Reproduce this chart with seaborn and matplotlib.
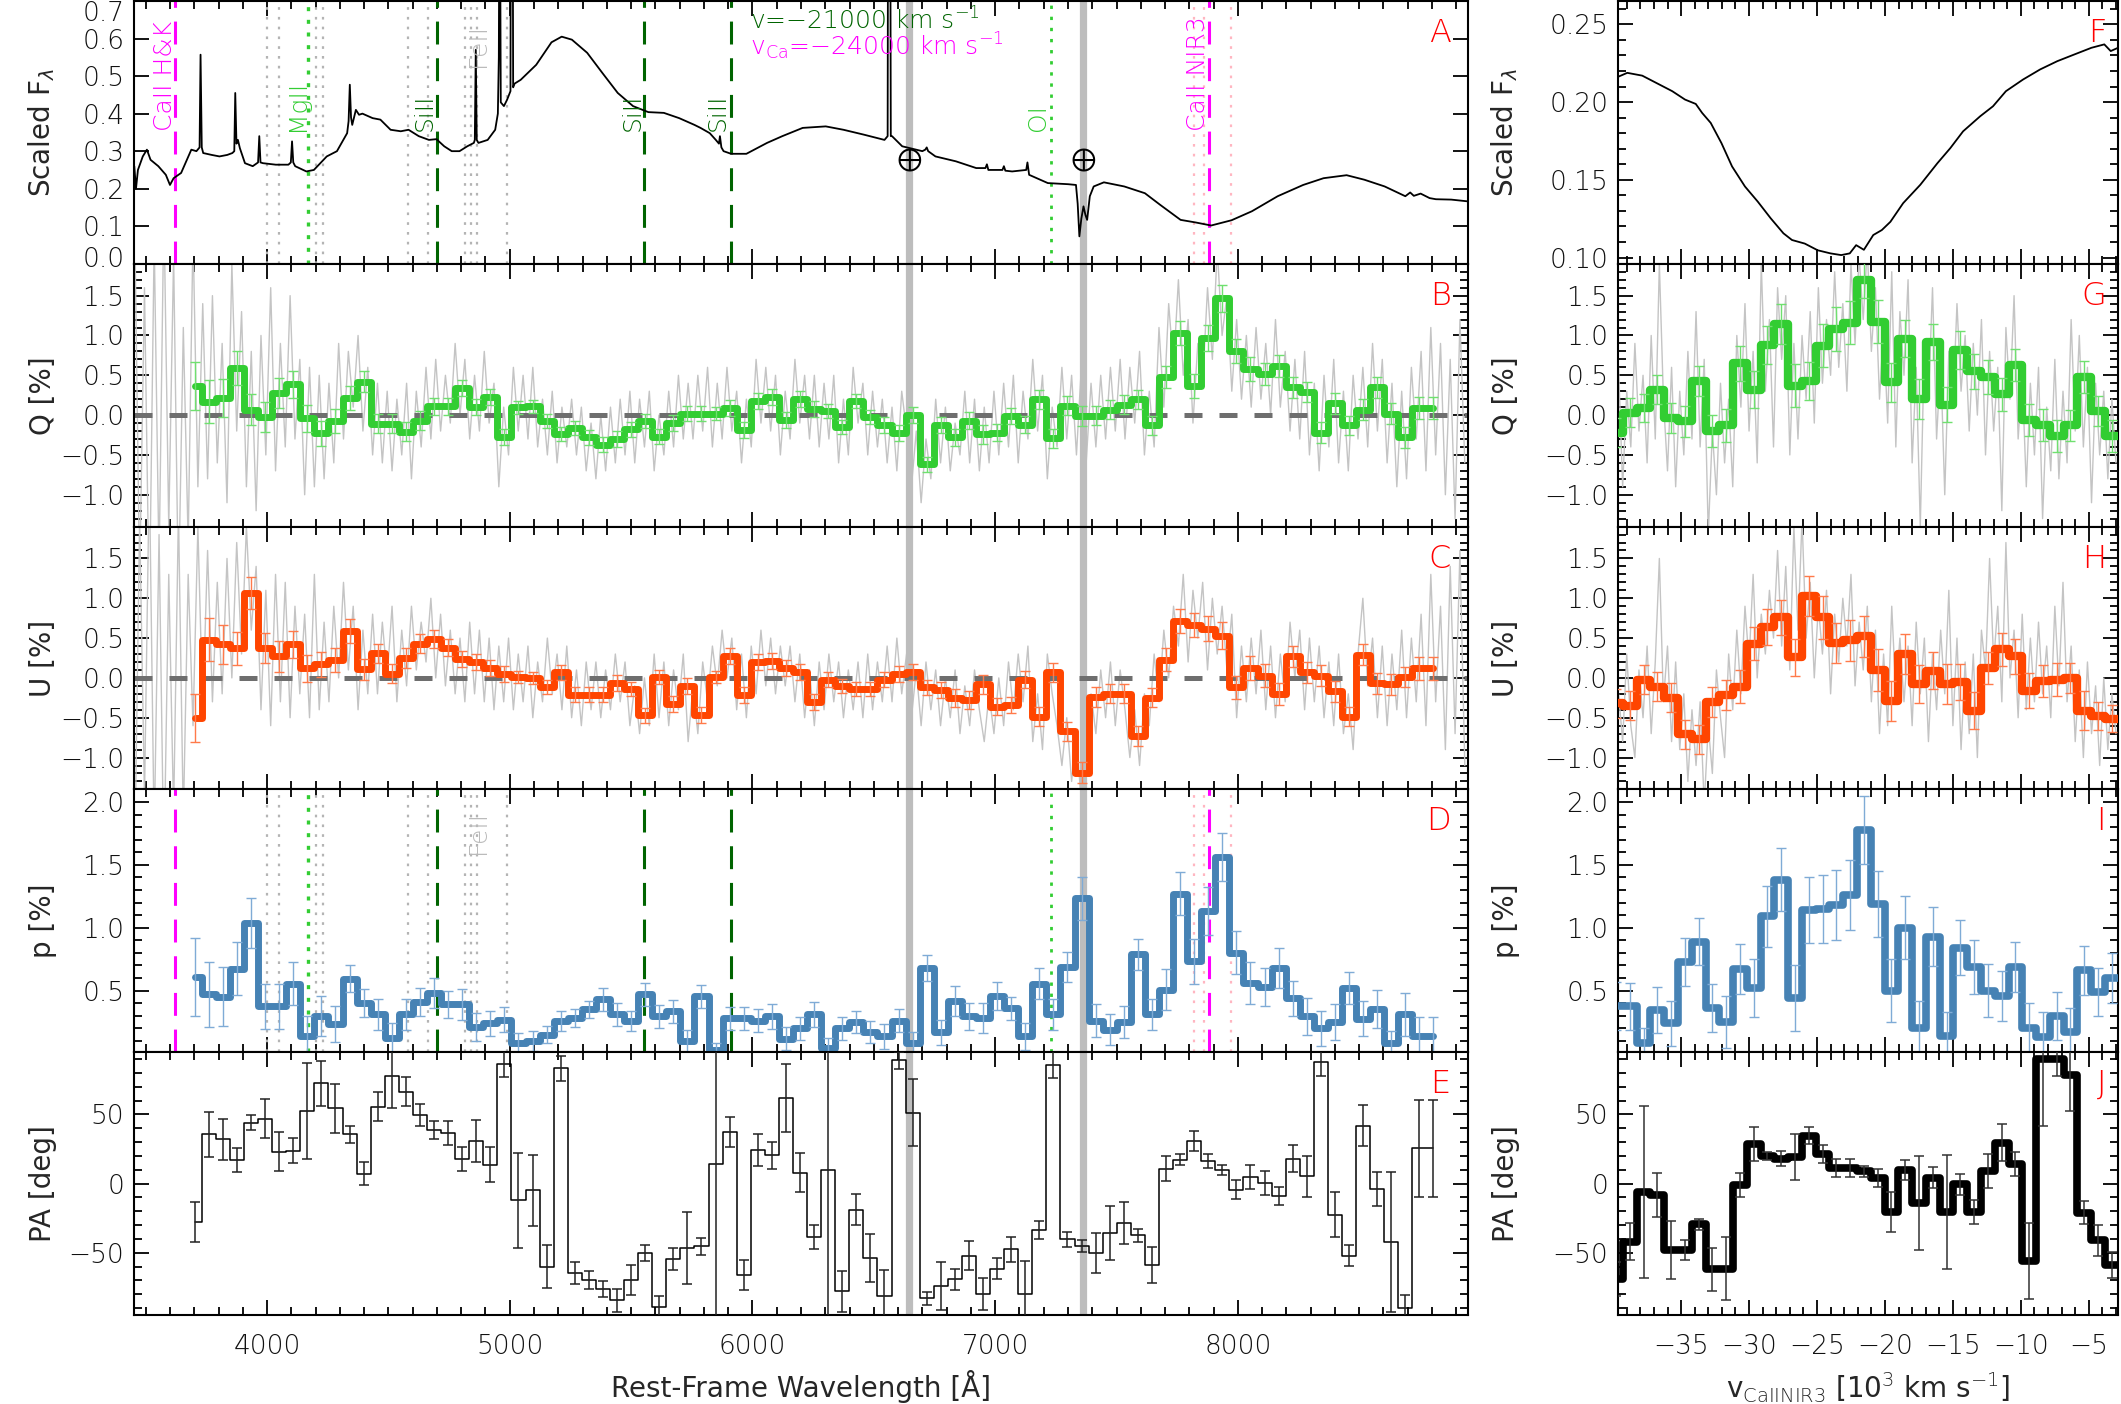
import numpy as np
import pandas as pd
import matplotlib
matplotlib.use("Agg")
import matplotlib.pyplot as plt
import seaborn as sns
from matplotlib.ticker import MultipleLocator, FuncFormatter
from matplotlib.transforms import ScaledTranslation

# ------------------------------------------------------------------ data
# left panels: binned spectropolarimetry (bin centres in Angstrom)
BIN_START = 3702.0
BIN_WIDTH = 58.0

q_left = [0.37, 0.17, 0.21, 0.59, 0.07, -0.02, 0.28, 0.39, -0.04, -0.23,
          -0.07, 0.21, 0.42, -0.11, -0.11, -0.21, -0.07, 0.11, 0.11, 0.34,
          0.10, 0.23, -0.27, 0.10, 0.11, -0.07, -0.24, -0.16, -0.28, -0.37,
          -0.30, -0.18, -0.07, -0.27, -0.10, 0.02, 0.02, 0.02, 0.09, -0.19,
          0.18, 0.23, -0.06, 0.20, 0.08, 0.05, -0.15, 0.18, -0.02, -0.12,
          -0.23, 0.00, -0.62, -0.13, -0.28, -0.07, -0.24, -0.22, -0.01, -0.12,
          0.20, -0.29, 0.12, -0.01, -0.01, 0.07, 0.13, 0.20, -0.13, 0.48,
          1.03, 0.37, 0.97, 1.47, 0.80, 0.58, 0.52, 0.62, 0.35, 0.29,
          -0.22, 0.15, -0.13, 0.07, 0.35, 0.02, -0.28, 0.09, 0.09]
u_left = [-0.50, 0.48, 0.42, 0.37, 1.07, 0.38, 0.27, 0.42, 0.12, 0.17,
          0.23, 0.59, 0.11, 0.31, 0.05, 0.25, 0.43, 0.49, 0.38, 0.24,
          0.20, 0.12, 0.05, 0.01, 0.00, -0.11, 0.07, -0.21, -0.21, -0.21,
          -0.06, -0.14, -0.47, 0.01, -0.33, -0.10, -0.46, 0.01, 0.27, -0.22,
          0.20, 0.21, 0.13, 0.07, -0.30, -0.02, -0.10, -0.14, -0.14, -0.02,
          0.05, 0.07, -0.12, -0.15, -0.25, -0.28, -0.08, -0.36, -0.34, -0.02,
          -0.49, 0.07, -0.67, -1.19, -0.24, -0.20, -0.20, -0.73, -0.25, 0.23,
          0.72, 0.66, 0.62, 0.53, -0.12, 0.12, 0.03, -0.20, 0.27, 0.07,
          0.03, -0.17, -0.49, 0.29, -0.07, -0.08, 0.01, 0.12, 0.12]
qu_err_left = [0.30, 0.27, 0.24, 0.21, 0.20, 0.19, 0.19, 0.17, 0.17, 0.16,
               0.15, 0.15, 0.13, 0.12, 0.12, 0.12, 0.12, 0.11, 0.11, 0.10,
               0.10, 0.10, 0.10, 0.08, 0.08, 0.09, 0.09, 0.09, 0.09, 0.09,
               0.10, 0.09, 0.09, 0.09, 0.10, 0.10, 0.10, 0.08, 0.10, 0.10,
               0.10, 0.10, 0.10, 0.10, 0.10, 0.09, 0.09, 0.09, 0.09, 0.10,
               0.10, 0.10, 0.10, 0.10, 0.11, 0.11, 0.12, 0.11, 0.10, 0.11,
               0.12, 0.12, 0.12, 0.13, 0.12, 0.12, 0.12, 0.12, 0.12, 0.14,
               0.15, 0.15, 0.16, 0.17, 0.15, 0.15, 0.14, 0.14, 0.13, 0.13,
               0.13, 0.13, 0.12, 0.13, 0.13, 0.13, 0.13, 0.14, 0.14]
p_left = [0.61, 0.47, 0.45, 0.675, 1.04, 0.375, 0.375, 0.556, 0.136, 0.295,
          0.234, 0.596, 0.40, 0.31, 0.12, 0.31, 0.41, 0.48, 0.39, 0.39,
          0.21, 0.24, 0.27, 0.08, 0.10, 0.15, 0.255, 0.28, 0.35, 0.43,
          0.31, 0.26, 0.47, 0.295, 0.335, 0.10, 0.455, 0.03, 0.28, 0.28,
          0.26, 0.295, 0.117, 0.20, 0.31, 0.04, 0.20, 0.25, 0.17, 0.136,
          0.26, 0.08, 0.68, 0.17, 0.415, 0.295, 0.28, 0.455, 0.36, 0.136,
          0.556, 0.31, 0.686, 1.234, 0.26, 0.19, 0.25, 0.787, 0.31, 0.508,
          1.27, 0.734, 1.133, 1.564, 0.80, 0.56, 0.527, 0.68, 0.44, 0.295,
          0.20, 0.25, 0.52, 0.277, 0.356, 0.08, 0.31, 0.136, 0.136]
p_err_left = [0.31, 0.26, 0.235, 0.21, 0.20, 0.18, 0.18, 0.17, 0.16, 0.16,
              0.14, 0.11, 0.11, 0.12, 0.12, 0.12, 0.11, 0.12, 0.11, 0.12,
              0.11, 0.10, 0.10, 0.08, 0.08, 0.07, 0.08, 0.07, 0.07, 0.09,
              0.09, 0.08, 0.09, 0.09, 0.09, 0.09, 0.09, 0.05, 0.09, 0.09,
              0.09, 0.10, 0.09, 0.09, 0.10, 0.08, 0.09, 0.09, 0.09, 0.10,
              0.09, 0.09, 0.10, 0.10, 0.12, 0.11, 0.12, 0.11, 0.09, 0.11,
              0.12, 0.12, 0.12, 0.17, 0.13, 0.12, 0.13, 0.12, 0.12, 0.16,
              0.17, 0.18, 0.19, 0.19, 0.17, 0.17, 0.15, 0.16, 0.14, 0.15,
              0.14, 0.14, 0.13, 0.14, 0.15, 0.10, 0.17, 0.15, 0.15]
pa_left = [-27.8, 35.5, 31.9, 16.9, 44.0, 47.0, 23.0, 23.7, 52.7, 72.5,
           54.3, 35.7, 7.2, 55.5, 78.0, 66.4, 49.5, 38.6, 36.7, 17.6,
           30.9, 13.8, 86.5, -12.0, -4.8, -60.0, 83.3, -64.5, -69.6, -76.0,
           -84.5, -69.6, -50.0, -89.4, -54.3, -46.4, -45.4, 14.5, 37.4, -66.0,
           24.2, 20.5, 61.6, 8.0, -38.6, 9.7, -78.0, -18.8, -53.6, -81.0,
           89.0, 51.2, -83.0, -74.0, -69.0, -52.0, -80.0, -61.6, -47.6, -79.7,
           -33.8, 86.0, -40.3, -45.2, -50.0, -35.7, -28.3, -37.4, -59.0, 10.9,
           17.4, 30.9, 16.4, 10.1, -4.3, 4.8, 0.5, -9.2, 18.1, 5.3,
           88.0, -22.5, -52.0, 41.8, -4.1, -42.3, -89.9, 25.4, 25.4]
pa_err_left = [14.7, 16.0, 14.9, 8.7, 5.4, 14.0, 14.0, 9.0, 34.8, 16.2,
               17.4, 6.3, 8.5, 10.6, 23.5, 10.4, 8.1, 6.6, 8.6, 8.5,
               15.0, 12.4, 9.4, 34.4, 25.7, 15.3, 8.8, 8.1, 6.3, 5.8,
               8.5, 10.9, 5.9, 7.9, 8.0, 26.0, 6.0, 200.0, 10.9, 10.9,
               11.5, 9.7, 24.6, 14.1, 8.9, 200.0, 14.5, 11.0, 17.3, 18.7,
               6.0, 24.2, 4.7, 17.5, 7.6, 10.5, 11.7, 7.6, 9.0, 24.0,
               6.4, 9.9, 5.4, 4.2, 14.6, 19.7, 15.1, 4.6, 13.0, 9.2,
               4.1, 7.4, 5.0, 3.6, 6.6, 8.5, 8.5, 6.6, 9.7, 14.9,
               10.0, 16.2, 7.5, 14.7, 12.4, 50.7, 9.4, 35.4, 35.4]

# unbinned Q and U (grey), sampled every GRAY_STEP Angstrom
GRAY_START = 3455.0
GRAY_STEP = 20.0
q_gray_left = [2.4, -2.1, 1.6, -2.5, 2.2, -1.9, 2.6, -1.4, 2.0, -2.3,
               1.1, -1.6, 2.3, -0.9, 1.4, -0.8, 1.5, -0.6, 0.9, -1.1,
               1.9, -0.2, 1.3, -0.9, 0.8, -1.2, 1.0, -0.5, 1.6, -0.7,
               0.9, -0.4, 1.5, -0.3, 0.7, -1.0, 0.6, -0.9, 0.5, -0.8,
               0.4, -0.6, 0.9, -0.3, 0.8, 0.1, 1.0, -0.2, 0.6, -0.5,
               0.4, -0.6, 0.3, -0.7, 0.2, -0.5, 0.4, -0.8, 0.3, -0.4,
               0.6, -0.3, 0.7, -0.2, 0.5, -0.1, 0.9, 0.0, 0.7, -0.3,
               0.5, -0.2, 0.8, -0.1, 0.4, -0.9, 0.1, -0.5, 0.6, -0.2,
               0.5, -0.3, 0.6, -0.4, 0.2, -0.5, 0.3, -0.6, 0.1, -0.4,
               0.2, -0.5, 0.1, -0.7, -0.1, -0.8, 0.0, -0.7, 0.1, -0.6,
               0.2, -0.5, 0.3, -0.6, 0.2, -0.4, 0.3, -0.7, 0.0, -0.5,
               0.3, -0.4, 0.5, -0.3, 0.4, -0.3, 0.5, -0.2, 0.6, -0.4,
               0.4, -0.3, 0.6, -0.2, 0.3, -0.6, 0.2, -0.4, 0.7, -0.1,
               0.6, -0.2, 0.5, -0.5, 0.3, -0.3, 0.7, -0.1, 0.5, -0.3,
               0.5, -0.4, 0.4, -0.3, 0.5, -0.6, 0.2, -0.5, 0.6, -0.1,
               0.4, -0.5, 0.3, -0.4, 0.2, -0.6, 0.1, -0.7, 0.3, -0.2,
               -0.9, -0.2, -1.1, -0.3, -0.8, 0.2, -0.6, 0.1, -0.7, -0.1,
               -0.5, 0.3, -0.6, 0.2, -0.7, 0.1, -0.6, 0.3, -0.5, 0.4,
               -0.4, 0.5, -0.6, 0.3, -0.3, 0.7, -0.2, 0.5, -0.8, 0.1,
               -0.4, 0.6, -0.3, 0.5, -0.5, 0.6, -0.6, 0.4, -0.4, 0.5,
               -0.3, 0.6, -0.2, 0.7, -0.3, 0.6, -0.1, 0.8, -0.5, 0.3,
               -0.4, 1.1, 0.1, 1.4, 0.6, 1.7, 0.5, 1.2, -0.1, 0.9,
               0.4, 1.6, 0.7, 2.1, 1.0, 1.5, 0.3, 1.2, 0.2, 1.0,
               0.1, 1.1, 0.2, 0.9, 0.0, 1.2, 0.1, 0.8, -0.2, 0.7,
               -0.3, 0.8, -0.5, 0.4, -0.7, 0.5, -0.4, 0.7, -0.6, 0.3,
               -0.7, 0.5, -0.3, 0.6, -0.4, 0.9, -0.2, 0.7, -0.6, 0.4,
               -0.9, 0.3, -0.8, 0.6, -0.3, 0.8, -0.7, 1.1, -0.5, 0.9,
               -1.0, 0.7, -1.3, 1.2, -0.6]
u_gray_left = [-2.3, 2.0, -1.5, 2.6, -2.0, 1.8, -2.4, 1.3, -1.7, 2.1,
               -1.8, 1.3, -0.6, 1.9, -0.4, 1.6, -0.3, 1.2, -0.2, 1.5,
               0.0, 1.7, 0.3, 1.9, 0.6, 1.4, -0.4, 1.1, -0.6, 1.3,
               -0.3, 1.2, -0.5, 0.9, -0.2, 0.8, -0.5, 1.3, -0.4, 0.7,
               -0.3, 0.9, 0.0, 1.2, 0.1, 0.9, -0.4, 0.6, -0.2, 0.8,
               -0.2, 0.7, 0.0, 0.9, -0.3, 0.6, -0.1, 0.9, 0.1, 0.7,
               0.2, 1.0, 0.0, 0.8, -0.1, 0.6, -0.2, 0.5, -0.3, 0.7,
               -0.2, 0.6, -0.3, 0.5, -0.4, 0.4, -0.3, 0.5, -0.4, 0.3,
               -0.3, 0.4, -0.5, 0.2, -0.3, 0.5, -0.2, 0.3, -0.4, 0.4,
               -0.5, 0.1, -0.6, 0.2, -0.4, 0.2, -0.5, 0.1, -0.4, 0.3,
               -0.3, 0.2, -0.6, -0.1, -0.7, 0.0, -0.6, 0.3, -0.5, 0.2,
               -0.6, 0.1, -0.4, 0.3, -0.8, -0.1, -0.7, 0.2, -0.3, 0.4,
               -0.1, 0.6, 0.0, 0.5, -0.4, 0.3, -0.5, 0.4, -0.2, 0.6,
               -0.1, 0.5, -0.2, 0.4, -0.1, 0.4, -0.3, 0.3, -0.5, 0.1,
               -0.6, 0.2, -0.4, 0.3, -0.3, 0.2, -0.5, 0.1, -0.4, 0.2,
               -0.5, 0.3, -0.4, 0.2, -0.3, 0.4, -0.3, 0.5, -0.2, 0.3,
               -0.5, 0.1, -0.6, 0.2, -0.4, 0.1, -0.6, 0.0, -0.5, 0.1,
               -0.7, -0.1, -0.6, 0.1, -0.4, -0.8, -0.2, -0.7, 0.0, -0.6,
               0.2, -0.4, 0.3, -0.3, 0.4, -0.8, -0.2, -0.9, 0.3, -0.2,
               -0.6, -1.1, -0.5, -1.3, -0.7, -1.6, -0.6, -0.2, -0.7, 0.1,
               -0.5, 0.2, -0.6, 0.1, -0.4, -1.0, -0.4, -1.1, -0.2, -0.6,
               0.3, -0.3, 0.6, 0.0, 0.9, 0.4, 1.3, 0.2, 1.1, 0.5,
               1.2, 0.1, 1.0, 0.3, 0.9, 0.1, 0.8, -0.5, 0.4, -0.3,
               0.5, -0.2, 0.6, -0.4, 0.4, -0.5, 0.3, -0.3, 0.7, 0.0,
               0.6, -0.4, 0.5, -0.3, 0.4, -0.5, 0.2, -0.6, 0.3, -0.7,
               -0.2, -0.9, 0.3, 1.0, -0.1, 0.5, -0.5, 0.4, -0.6, 0.3,
               -0.4, 0.6, -0.5, 0.5, -0.3, 0.8, -0.6, 1.3, -0.3, 0.9,
               -0.9, 1.4, -0.7, 1.6, -1.1]

# right panels: Ca II NIR3 velocity space, bins in 10^3 km/s
V_START = -39.79
V_STEP = 1.0134
q_right = [-0.22, 0.03, 0.09, 0.32, -0.035, -0.08, 0.43, -0.20, -0.13, 0.65,
           0.32, 0.88, 1.14, 0.37, 0.43, 0.87, 1.08, 1.16, 1.70, 1.17,
           0.41, 0.96, 0.20, 0.92, 0.13, 0.82, 0.55, 0.48, 0.26, 0.63,
           -0.06, -0.12, -0.26, -0.13, 0.48, 0.05, -0.26, -0.26]
q_err_right = [0.18, 0.18, 0.18, 0.185, 0.19, 0.19, 0.19, 0.20, 0.21, 0.22,
               0.23, 0.24, 0.25, 0.27, 0.24, 0.27, 0.28, 0.27, 0.23, 0.27,
               0.25, 0.23, 0.25, 0.23, 0.22, 0.24, 0.22, 0.21, 0.21, 0.20,
               0.20, 0.20, 0.20, 0.20, 0.20, 0.19, 0.20, 0.20]
u_right = [-0.32, -0.35, -0.02, -0.11, -0.25, -0.71, -0.77, -0.30, -0.21, -0.11,
           0.43, 0.64, 0.76, 0.26, 1.03, 0.76, 0.44, 0.47, 0.52, 0.10,
           -0.29, 0.30, -0.08, 0.09, -0.08, -0.05, -0.41, 0.12, 0.36, 0.27,
           -0.16, -0.04, -0.02, 0.00, -0.41, -0.48, -0.51, -0.51]
u_err_right = [0.18, 0.18, 0.18, 0.18, 0.18, 0.18, 0.18, 0.19, 0.19, 0.21,
               0.21, 0.23, 0.22, 0.23, 0.25, 0.27, 0.25, 0.26, 0.26, 0.26,
               0.25, 0.25, 0.24, 0.23, 0.25, 0.23, 0.23, 0.20, 0.21, 0.22,
               0.22, 0.20, 0.21, 0.19, 0.25, 0.18, 0.17, 0.19]
p_right = [0.375, 0.375, 0.08, 0.345, 0.24, 0.73, 0.89, 0.36, 0.25, 0.67,
           0.52, 1.09, 1.38, 0.44, 1.14, 1.15, 1.18, 1.26, 1.78, 1.19,
           0.50, 1.00, 0.20, 0.93, 0.14, 0.84, 0.69, 0.50, 0.455, 0.69,
           0.20, 0.13, 0.30, 0.17, 0.66, 0.49, 0.60, 0.60]
p_err_right = [0.19, 0.186, 0.12, 0.18, 0.18, 0.19, 0.19, 0.19, 0.21, 0.20,
               0.23, 0.24, 0.25, 0.26, 0.26, 0.27, 0.28, 0.275, 0.27, 0.26,
               0.25, 0.25, 0.22, 0.235, 0.19, 0.22, 0.215, 0.21, 0.20, 0.20,
               0.20, 0.20, 0.19, 0.19, 0.195, 0.19, 0.195, 0.195]
pa_right = [-69.0, -42.0, -6.0, -8.5, -48.0, -48.0, -29.5, -62.0, -61.5, -1.0,
            28.5, 20.0, 18.0, 19.0, 34.5, 21.7, 11.3, 11.3, 9.0, 4.0,
            -20.5, 9.7, -14.0, 4.3, -20.5, -0.5, -20.5, 9.2, 29.7, 14.0,
            -56.0, 90.0, 90.0, 78.5, -21.0, -41.0, -59.0, -59.0]
pa_err_right = [12.0, 13.5, 62.0, 16.0, 21.0, 7.0, 4.0, 15.5, 23.0, 9.0,
                12.4, 3.0, 5.3, 16.5, 6.2, 6.5, 6.8, 6.3, 3.9, 6.5,
                14.2, 7.2, 34.0, 7.4, 41.3, 7.7, 8.7, 12.3, 13.1, 8.6,
                27.5, 48.0, 12.0, 26.0, 8.4, 11.0, 9.5, 9.5]

VG_START = -39.6
VG_STEP = 0.3
q_gray_right = [0.6, -0.9, 0.3, -0.4, 0.9, -0.2, 0.5, -0.6, 1.0, -0.3,
                1.9, 0.2, -0.7, 0.6, -0.9, 0.3, -0.5, 0.8, -0.3, 1.3,
                -0.4, 0.7, -1.5, -0.2, -1.0, 0.4, -0.6, 0.2, -0.9, 1.0,
                0.1, 1.4, -0.2, 0.8, -0.6, 1.9, 0.3, 1.2, -0.4, 1.6,
                0.7, 1.5, -0.5, 0.9, -0.3, 1.0, 0.2, 1.3, -0.1, 1.6,
                0.4, 1.2, 0.5, 1.8, 0.6, 1.4, 0.3, 1.9, 0.9, 2.0,
                1.2, 2.1, 0.8, 1.6, 0.2, 1.1, -0.1, 1.8, -0.4, 1.3,
                0.5, 1.7, -0.6, 0.6, -1.4, 0.9, 0.2, 1.6, -0.3, 0.7,
                -1.0, 0.8, 0.1, 1.4, 0.3, 1.0, -0.2, 0.9, 0.0, 1.2,
                -0.5, 0.8, -0.2, 0.6, -1.2, 1.1, 0.2, 1.5, -0.3, 0.5,
                -0.9, 0.4, -0.5, 0.6, -1.3, 0.1, -0.7, 0.7, -0.8, 0.3,
                -0.6, 1.2, -0.2, 1.0, -0.4, 0.6, -1.1, 0.4, -0.5, 0.3,
                -0.8, 0.2, -0.6]
u_gray_right = [-0.2, -0.8, 0.3, -0.6, -1.0, 0.1, -0.5, 0.4, -0.7, 0.2,
                1.5, -0.3, 0.4, -0.8, 0.2, -0.9, -0.2, -1.3, -0.4, -1.1,
                -0.3, -1.6, -0.6, -1.2, 0.1, -0.5, -1.0, 0.3, -0.4, 0.6,
                -0.2, 0.9, 0.2, 1.3, 0.0, 0.8, 0.3, 1.1, 0.5, 1.6,
                0.4, 1.4, 0.1, 1.9, 0.6, 2.0, 0.5, 1.2, 0.0, 0.9,
                0.3, 1.1, -0.2, 0.8, 0.2, 1.0, 0.4, 1.3, -0.1, 0.7,
                0.1, 0.9, -0.3, 0.6, -0.7, 0.3, -0.6, 0.9, -0.2, 0.5,
                -0.3, 0.4, -0.6, 0.7, -0.2, 0.5, -0.8, 0.3, -0.4, 0.6,
                -0.2, 1.1, -0.6, 0.5, -0.9, 0.2, -0.7, 0.3, -1.0, 0.6,
                0.1, 1.5, 0.2, 0.9, -0.3, 1.7, 0.0, 0.6, -0.5, 0.8,
                -0.4, 0.5, -0.3, 0.7, -0.2, 0.4, -0.5, 0.9, -0.1, 1.2,
                -0.3, 0.4, -0.8, 0.1, -1.0, 0.2, -0.7, -0.1, -1.1, 0.0,
                -0.9, -0.2, -0.7]

# flux spectrum (panel A)
spec_wave = [3453, 3460, 3468, 3488, 3505, 3520, 3552, 3583, 3600, 3615,
             3646, 3688, 3709, 3722, 3726, 3731, 3737, 3772, 3804, 3836,
             3857, 3865, 3869, 3874, 3880, 3888, 3909, 3941, 3963, 3968,
             3973, 3983, 4036, 4088, 4098, 4103, 4108, 4116, 4162, 4193,
             4246, 4288, 4330, 4336, 4341, 4346, 4351, 4366, 4379, 4393,
             4435, 4467, 4509, 4551, 4583, 4625, 4667, 4698, 4730, 4761,
             4793, 4825, 4852, 4856, 4860, 4864, 4871, 4909, 4940, 4951,
             4955, 4957, 4960, 4963, 4976, 4989, 5003, 5006, 5010, 5014,
             5020, 5045, 5109, 5172, 5214, 5256, 5319, 5382, 5445, 5508,
             5571, 5635, 5698, 5761, 5786, 5824, 5849, 5862, 5866, 5872,
             5881, 5912, 5975, 6060, 6123, 6207, 6302, 6375, 6459, 6544,
             6557, 6560, 6566, 6570, 6575, 6617, 6700, 6712, 6718, 6724,
             6754, 6838, 6922, 6960, 6966, 6972, 6985, 7030, 7036, 7042,
             7070, 7128, 7133, 7140, 7217, 7301, 7333, 7340, 7347, 7355,
             7364, 7372, 7379, 7390, 7406, 7448, 7532, 7617, 7680, 7764,
             7827, 7890, 7974, 8058, 8164, 8269, 8353, 8448, 8521, 8605,
             8690, 8710, 8725, 8753, 8790, 8816, 8879, 8952]
spec_flux = [0.26, 0.20, 0.25, 0.286, 0.304, 0.277, 0.26, 0.237, 0.21, 0.228,
             0.242, 0.304, 0.30, 0.31, 0.557, 0.31, 0.295, 0.29, 0.286, 0.29,
             0.295, 0.30, 0.455, 0.32, 0.33, 0.308, 0.268, 0.26, 0.27, 0.34,
             0.27, 0.268, 0.264, 0.264, 0.27, 0.326, 0.27, 0.26, 0.246, 0.25,
             0.286, 0.30, 0.348, 0.38, 0.477, 0.39, 0.37, 0.41, 0.397, 0.40,
             0.388, 0.384, 0.357, 0.353, 0.357, 0.34, 0.33, 0.332, 0.313, 0.30,
             0.30, 0.313, 0.322, 0.33, 0.57, 0.33, 0.322, 0.33, 0.357, 0.40,
             0.55, 0.95, 0.95, 0.43, 0.42, 0.437, 0.46, 1.6, 1.6, 0.47,
             0.48, 0.49, 0.53, 0.59, 0.605, 0.597, 0.562, 0.508, 0.455, 0.42,
             0.404, 0.402, 0.388, 0.37, 0.362, 0.348, 0.33, 0.32, 0.34, 0.31,
             0.30, 0.293, 0.293, 0.322, 0.34, 0.362, 0.366, 0.357, 0.344, 0.33,
             0.34, 1.5, 1.5, 0.34, 0.34, 0.313, 0.30, 0.304, 0.31, 0.30,
             0.286, 0.273, 0.255, 0.255, 0.265, 0.25, 0.25, 0.25, 0.26, 0.248,
             0.246, 0.25, 0.27, 0.237, 0.215, 0.212, 0.21, 0.16, 0.073, 0.12,
             0.153, 0.13, 0.117, 0.18, 0.206, 0.217, 0.206, 0.188, 0.157, 0.117,
             0.11, 0.102, 0.116, 0.14, 0.18, 0.21, 0.228, 0.236, 0.224, 0.206,
             0.18, 0.19, 0.181, 0.187, 0.175, 0.172, 0.171, 0.166]

# flux around Ca II NIR3 in velocity space (panel F)
f_vel = [-39.65, -38.96, -37.86, -36.60, -35.65, -34.71, -33.92, -33.45, -32.82, -32.03,
         -31.25, -30.30, -29.36, -28.41, -27.47, -26.84, -25.90, -24.95, -24.01, -23.22,
         -22.59, -22.12, -21.55, -20.86, -20.23, -19.60, -18.66, -17.40, -16.14, -15.19,
         -14.25, -12.99, -12.05, -11.10, -9.84, -8.58, -7.32, -6.07, -4.81, -3.86,
         -3.39, -2.85]
f_flux = [0.2162, 0.2188, 0.2170, 0.2113, 0.2070, 0.2016, 0.1988, 0.1930, 0.1866, 0.1736,
          0.1586, 0.1457, 0.1360, 0.1253, 0.1156, 0.1113, 0.1090, 0.1047, 0.1027, 0.1016,
          0.1027, 0.1080, 0.1050, 0.1145, 0.1177, 0.1230, 0.1350, 0.1468, 0.1607, 0.1704,
          0.1812, 0.1909, 0.1973, 0.2070, 0.2145, 0.2210, 0.2263, 0.2306, 0.2349, 0.2371,
          0.2328, 0.2349]

# line identifications (Angstrom)
caHK_wave = 3620
caNIR3_wave = 7882
mgII_wave = 4167
oI_wave = 7230
siII_waves = [4700, 5555, 5910]
feII_waves = [3999, 4050, 4203, 4231, 4581, 4663, 4814, 4839, 4866, 4988]
caNIR_extra = [7820, 7860, 7972]
telluric_waves = [6647, 7362]

# ------------------------------------------------------------------ style
sns.set_theme(style="ticks", rc={"axes.linewidth": 1.5})
plt.rcParams["font.family"] = ["DejaVu Sans", "Open Sans"]
plt.rcParams["font.weight"] = 200
plt.rcParams["mathtext.fontset"] = "dejavusans"
plt.rcParams["axes.unicode_minus"] = True

C_Q, C_QE = "#32cd32", "#6fe06f"
C_U, C_UE = "#ff4500", "#ff7a4a"
C_P, C_PE = "#4682b4", "#7fabd6"
C_GRAY = "#c4c4c4"
C_BAND = "#bdbdbd"
MAG = "#ff00ff"
DGREEN = "#006400"
LGREEN = "#32cd32"

TICK_FS = 19
LAB_FS = 20

def minus_fmt(fmt):
    return FuncFormatter(lambda v, p: (fmt % v).replace("-", "\u2212"))

fig = plt.figure(figsize=(21.21, 14.04), dpi=100)
LX, LW = 0.0632, 0.6289
RX, RW = 0.7628, 0.2358
H = 0.18718
bottoms = [0.81211, 0.62493, 0.43775, 0.25057, 0.06339]
axL = [fig.add_axes([LX, b, LW, H]) for b in bottoms]
axR = [fig.add_axes([RX, b, RW, H]) for b in bottoms]


def style(ax, xmaj, xmin, ymaj, ymin, xlim, ylim, yfmt, xlabels=False, xfmt="%d"):
    ax.set_xlim(*xlim)
    ax.set_ylim(*ylim)
    ax.xaxis.set_major_locator(MultipleLocator(xmaj))
    ax.xaxis.set_minor_locator(MultipleLocator(xmin))
    ax.yaxis.set_major_locator(MultipleLocator(ymaj))
    if ymin:
        ax.yaxis.set_minor_locator(MultipleLocator(ymin))
    ax.yaxis.set_major_formatter(minus_fmt(yfmt))
    ax.xaxis.set_major_formatter(minus_fmt(xfmt))
    ax.tick_params(which="both", direction="in", top=True, right=True,
                   width=1.3, color="black", labelsize=TICK_FS, labelcolor="#111111")
    ax.tick_params(which="major", length=11)
    ax.tick_params(which="minor", length=5.5)
    ax.tick_params(axis="x", labelbottom=xlabels, pad=14)
    ax.tick_params(axis="y", pad=7)
    for s in ax.spines.values():
        s.set_linewidth(1.5)
        s.set_color("black")
    ax.set_xlabel("")
    ax.set_ylabel("")


XL = (3452, 8948)
XR = (-39.65, -2.85)

bins_l = BIN_START + BIN_WIDTH * np.arange(len(p_left))
gray_l = GRAY_START + GRAY_STEP * np.arange(len(q_gray_left))
gray_lu = GRAY_START + GRAY_STEP * np.arange(len(u_gray_left))
bins_r = V_START + V_STEP * np.arange(len(p_right))
gray_r = VG_START + VG_STEP * np.arange(len(q_gray_right))
gray_ru = VG_START + VG_STEP * np.arange(len(u_gray_right))


def line_markers(ax):
    ax.axvline(caHK_wave, color=MAG, lw=2.2, ls=(0, (7.5, 4.5)), zorder=2)
    ax.axvline(caNIR3_wave, color=MAG, lw=2.2, ls=(0, (7.5, 4.5)), zorder=2)
    for w in feII_waves:
        ax.axvline(w, color="#b4b4b4", lw=1.6, ls=(0, (1.2, 3.2)), zorder=2)
    for w in caNIR_extra:
        ax.axvline(w, color="#ffb6c1", lw=1.6, ls=(0, (1.2, 3.2)), zorder=2)
    ax.axvline(mgII_wave, color=LGREEN, lw=2.4, ls=(0, (1.2, 2.6)), zorder=2)
    ax.axvline(oI_wave, color=LGREEN, lw=2.0, ls=(0, (1.2, 2.8)), zorder=2)
    for w in siII_waves:
        ax.axvline(w, color=DGREEN, lw=2.2, ls=(0, (7.5, 4.5)), zorder=2)


def telluric(ax):
    for w in telluric_waves:
        ax.axvline(w, color=C_BAND, lw=5.2, zorder=1.8)


def step(ax, x, y, color, lw, err=None, ecolor=None, elw=1.0, cap=3.5):
    sns.lineplot(x=x, y=y, ax=ax, color=color, linewidth=lw,
                 drawstyle="steps-mid", legend=False, zorder=3,
                 estimator=None, sort=False)
    if err is not None:
        n = min(len(x), len(y), len(err))
        ax.errorbar(x[:n], np.asarray(y[:n]), yerr=np.asarray(err[:n]), fmt="none",
                    ecolor=ecolor, elinewidth=elw, capsize=cap, capthick=elw, zorder=4)


def letter(ax, s, x):
    ax.text(x, 0.935, s, transform=ax.transAxes, ha="right", va="top",
            color="red", fontsize=23)

# ---- A : flux spectrum
ax = axL[0]
telluric(ax)
line_markers(ax)
sns.lineplot(x=spec_wave, y=spec_flux, ax=ax, color="black", linewidth=1.3,
             legend=False, zorder=3, estimator=None, sort=False)
for w in telluric_waves:
    ax.text(w, 0.277, "$\\oplus$", ha="center", va="center", fontsize=22,
            color="black", zorder=5)
lab_kw = dict(rotation=90, ha="center", va="bottom", fontsize=18)
ax.text(3580, 0.355, "CaII H&K", color=MAG, **lab_kw)
ax.text(4124, 0.355, "MgII", color=LGREEN, **lab_kw)
ax.text(4650, 0.355, "SiII", color=DGREEN, **lab_kw)
ax.text(4868, 0.525, "FeII", color="#bbbbbb", **lab_kw)
ax.text(5507, 0.355, "SiII", color=DGREEN, **lab_kw)
ax.text(5859, 0.355, "SiII", color=DGREEN, **lab_kw)
ax.text(7176, 0.355, "OI", color=LGREEN, **lab_kw)
ax.text(7834, 0.355, "CaII NIR3", color=MAG, **lab_kw)
ax.text(5990, 0.648, "v=\u221221000 km s$^{-1}$", color=DGREEN, fontsize=18,
        ha="left", va="center")
ax.text(5990, 0.580, "v$_{\\rm Ca}$=\u221224000 km s$^{-1}$", color=MAG, fontsize=18,
        ha="left", va="center")
style(ax, 1000, 100, 0.1, None, XL, (0.0, 0.7), "%.1f")
ax.set_ylabel("Scaled F$_\\lambda$", fontsize=LAB_FS)
letter(ax, "A", 0.987)

# ---- B : Q
ax = axL[1]
sns.lineplot(x=gray_l, y=q_gray_left, ax=ax, color=C_GRAY, linewidth=1.0,
             legend=False, zorder=1, estimator=None, sort=False)
telluric(ax)
ax.axhline(0, color="#6e6e6e", lw=3.6, ls=(0, (3.6, 3.4)), zorder=2.5)
step(ax, bins_l, q_left, C_Q, 5.0, qu_err_left, C_QE)
style(ax, 1000, 100, 0.5, 0.1, XL, (-1.4, 1.9), "%.1f")
ax.set_ylabel("Q [%]", fontsize=LAB_FS)
letter(ax, "B", 0.987)

# ---- C : U
ax = axL[2]
sns.lineplot(x=gray_lu, y=u_gray_left, ax=ax, color=C_GRAY, linewidth=1.0,
             legend=False, zorder=1, estimator=None, sort=False)
telluric(ax)
ax.axhline(0, color="#6e6e6e", lw=3.6, ls=(0, (3.6, 3.4)), zorder=2.5)
step(ax, bins_l, u_left, C_U, 5.0, qu_err_left, C_UE)
style(ax, 1000, 100, 0.5, 0.1, XL, (-1.4, 1.9), "%.1f")
ax.set_ylabel("U [%]", fontsize=LAB_FS)
letter(ax, "C", 0.987)

# ---- D : p
ax = axL[3]
telluric(ax)
line_markers(ax)
ax.text(4868, 1.585, "FeII", color="#bbbbbb", **lab_kw)
step(ax, bins_l, p_left, C_P, 5.0, p_err_left, C_PE)
style(ax, 1000, 100, 0.5, 0.1, XL, (0.01, 2.1), "%.1f")
ax.set_ylabel("p [%]", fontsize=LAB_FS)
letter(ax, "D", 0.987)

# ---- E : PA
ax = axL[4]
telluric(ax)
step(ax, bins_l, pa_left, "black", 1.1, pa_err_left, "#222222", elw=1.1, cap=3.5)
style(ax, 1000, 100, 50, 10, XL, (-95, 95), "%d", xlabels=True)
ax.set_ylabel("PA [deg]", fontsize=LAB_FS)
ax.set_xlabel("Rest-Frame Wavelength [\u00c5]", fontsize=LAB_FS)
letter(ax, "E", 0.987)

# ---- F : flux (velocity)
ax = axR[0]
sns.lineplot(x=f_vel, y=f_flux, ax=ax, color="black", linewidth=1.3,
             legend=False, zorder=3, estimator=None, sort=False)
style(ax, 5, 1, 0.05, 0.01, XR, (0.096, 0.265), "%.2f")
ax.set_ylabel("Scaled F$_\\lambda$", fontsize=LAB_FS)
letter(ax, "F", 0.976)

# ---- G : Q
ax = axR[1]
sns.lineplot(x=gray_r, y=q_gray_right, ax=ax, color=C_GRAY, linewidth=1.0,
             legend=False, zorder=1, estimator=None, sort=False)
step(ax, bins_r, q_right, C_Q, 6.0, q_err_right, C_QE)
style(ax, 5, 1, 0.5, 0.1, XR, (-1.4, 1.9), "%.1f")
ax.set_ylabel("Q [%]", fontsize=LAB_FS)
letter(ax, "G", 0.976)

# ---- H : U
ax = axR[2]
sns.lineplot(x=gray_ru, y=u_gray_right, ax=ax, color=C_GRAY, linewidth=1.0,
             legend=False, zorder=1, estimator=None, sort=False)
step(ax, bins_r, u_right, C_U, 6.0, u_err_right, C_UE)
style(ax, 5, 1, 0.5, 0.1, XR, (-1.4, 1.9), "%.1f")
ax.set_ylabel("U [%]", fontsize=LAB_FS)
letter(ax, "H", 0.976)

# ---- I : p
ax = axR[3]
step(ax, bins_r, p_right, C_P, 5.5, p_err_right, C_PE)
style(ax, 5, 1, 0.5, 0.1, XR, (0.01, 2.1), "%.1f")
ax.set_ylabel("p [%]", fontsize=LAB_FS)
letter(ax, "I", 0.976)

# ---- J : PA
ax = axR[4]
step(ax, bins_r, pa_right, "black", 5.5, pa_err_right, "#333333", elw=1.1, cap=3.5)
style(ax, 5, 1, 50, 10, XR, (-95, 95), "%d", xlabels=True)
ax.set_ylabel("PA [deg]", fontsize=LAB_FS)
ax.set_xlabel("v$_{\\rm CaIINIR3}$ [10$^3$ km s$^{-1}$]", fontsize=LAB_FS)
letter(ax, "J", 0.976)

for ax in axL:
    ax.yaxis.set_label_coords(-0.058, 0.5)
for ax in axR:
    ax.yaxis.set_label_coords(-0.195, 0.5)
axL[4].xaxis.set_label_coords(0.5, -0.21)
axR[4].xaxis.set_label_coords(0.5, -0.21)

# keep the end tick labels of panel A inside the figure (as the reference does)
fig.canvas.draw()
axA = axL[0]
for tick, loc in zip(axA.yaxis.get_major_ticks(), axA.yaxis.get_majorticklocs()):
    if abs(loc - 0.7) < 1e-6:
        tick.label1.set_transform(tick.label1.get_transform() +
                                  ScaledTranslation(0, -0.10, fig.dpi_scale_trans))
    elif abs(loc) < 1e-6:
        tick.label1.set_transform(tick.label1.get_transform() +
                                  ScaledTranslation(0, 0.07, fig.dpi_scale_trans))

fig.savefig("out.png", dpi=100)
